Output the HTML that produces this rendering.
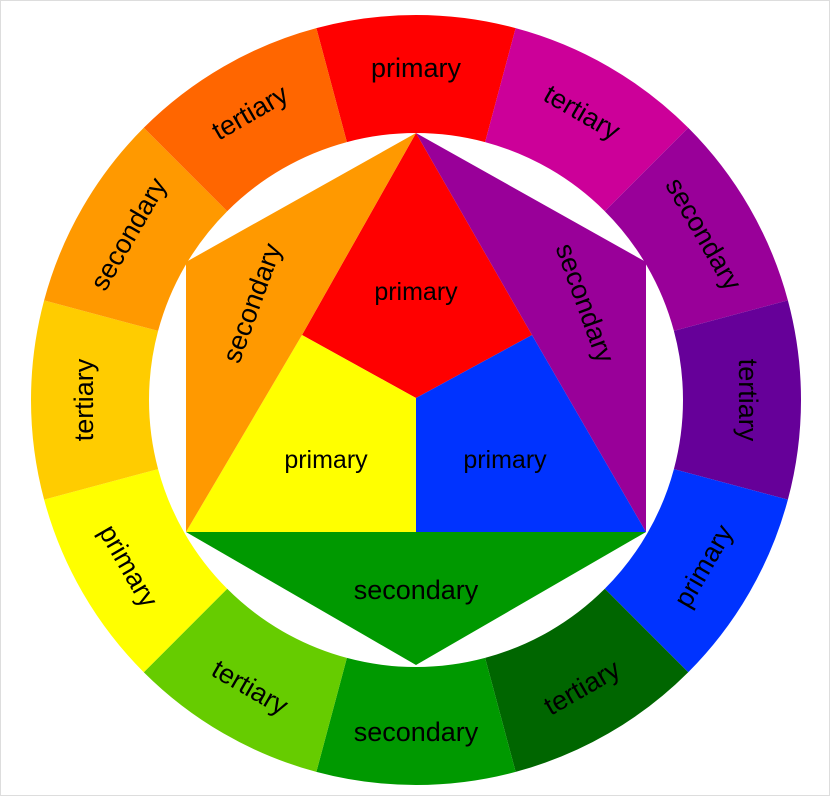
<!DOCTYPE html>
<html><head><meta charset="utf-8"><style>
html,body{margin:0;padding:0;background:#fff;}
svg{display:block;}
text{font-family:"Liberation Sans",Arial,sans-serif;fill:#000;}
</style></head><body>
<svg id="wheel" width="830" height="796" viewBox="0 0 830 796" xmlns="http://www.w3.org/2000/svg">
<rect x="0.5" y="0.5" width="829" height="795" fill="#fff" stroke="#ddd"/>
<g id="ring"></g>
<g id="inner"></g>
</svg>
<script>
const ringLabels=["primary","tertiary","secondary","tertiary","primary","tertiary","secondary","tertiary","primary","tertiary","secondary","tertiary"];
const ringColors=["#ff0000","#cc0099","#990099","#660099","#0033ff","#006600","#009900","#66cc00","#ffff00","#ffcc00","#ff9900","#ff6600"];
const innerLabels=["primary","primary","primary","secondary","secondary","secondary"];
const innerColors=["#ff0000","#ffff00","#0033ff","#ff9900","#990099","#009900"];
const NS="http://www.w3.org/2000/svg";
const cx=416,cy=400,R=385,r=267,tr=332;
const ring=document.getElementById('ring');
function pt(a,rad){const t=a*Math.PI/180;return [cx+rad*Math.cos(t),cy+rad*Math.sin(t)];}
ringColors.forEach((c,i)=>{
  const mid=-90+30*i,a0=mid-15,a1=mid+15;
  const p0=pt(a0,R),p1=pt(a1,R),p2=pt(a1,r),p3=pt(a0,r);
  const path=document.createElementNS(NS,'path');
  path.setAttribute('d',`M${p0}A${R},${R} 0 0 1 ${p1}L${p2}A${r},${r} 0 0 0 ${p3}Z`);
  path.setAttribute('fill',c);
  
  
  ring.appendChild(path);
  let ang=((mid%360)+360)%360;
  let rot=(ang>15&&ang<165)?ang-90:ang+90;
  const [tx,ty]=pt(mid,tr);
  const t=document.createElementNS(NS,'text');
  t.setAttribute('x',tx);t.setAttribute('y',ty);
  t.setAttribute('text-anchor','middle');t.setAttribute('dominant-baseline','central');
  t.setAttribute('font-size','27');
  t.setAttribute('transform',`rotate(${rot} ${tx} ${ty})`);
  t.textContent=ringLabels[i];
  
  
  ring.appendChild(t);
});
const shapes=[
 {pts:[[416,133],[302,335],[416,398],[532,335]],lx:416,ly:292,rot:0},
 {pts:[[302,335],[416,398],[416,532],[186,532]],lx:326,ly:460,rot:0},
 {pts:[[532,335],[416,398],[416,532],[646,532]],lx:505,ly:460,rot:0},
 {pts:[[416,133],[186,262],[186,532],[302,335]],lx:252,ly:303,rot:-70},
 {pts:[[416,133],[646,262],[646,532],[532,335]],lx:585,ly:303,rot:70},
 {pts:[[186,532],[646,532],[416,665]],lx:416,ly:590,rot:0}
];
const inner=document.getElementById('inner');
shapes.forEach((s,i)=>{
  const p=document.createElementNS(NS,'polygon');
  p.setAttribute('points',s.pts.map(q=>q.join(',')).join(' '));
  p.setAttribute('fill',innerColors[i]);
  
  
  inner.appendChild(p);
});
shapes.forEach((s,i)=>{
  const t=document.createElementNS(NS,'text');
  t.setAttribute('x',s.lx);t.setAttribute('y',s.ly);
  t.setAttribute('text-anchor','middle');t.setAttribute('dominant-baseline','central');
  t.setAttribute('font-size', i>=3 ? '27' : '25');
  t.setAttribute('transform',`rotate(${s.rot} ${s.lx} ${s.ly})`);
  t.textContent=innerLabels[i];
  
  
  inner.appendChild(t);
});
</script>
</body></html>
